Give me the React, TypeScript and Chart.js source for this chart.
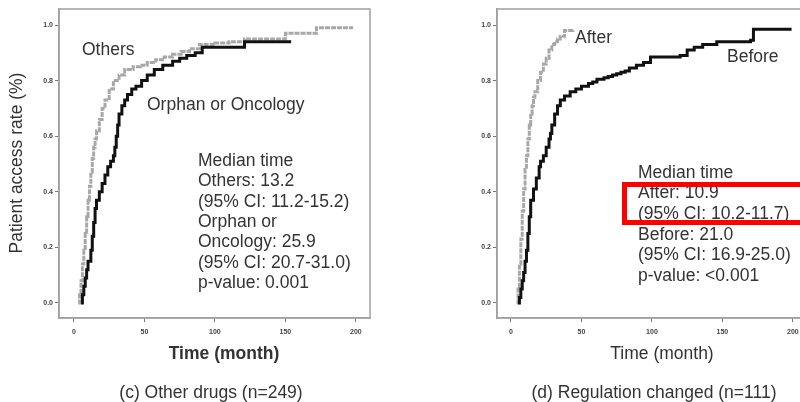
import React, { useEffect, useRef } from "react";
import { Chart, registerables } from "chart.js";

Chart.register(...registerables);

// ---------- data ----------
const xTickValues = [0, 50, 100, 150, 200];
const yTickValues = [0, 0.2, 0.4, 0.6, 0.8, 1.0];

// (c) Other drugs
const othersTime = [3, 4, 5, 6, 7, 8, 9, 10, 11, 12, 13, 14, 15, 16, 18, 20, 22, 25, 28, 32, 36, 42, 47, 52, 58, 64, 70, 76, 82, 89, 100, 110, 121, 150, 172, 198];
const othersRate = [0, 0.03, 0.08, 0.14, 0.19, 0.25, 0.31, 0.37, 0.42, 0.47, 0.52, 0.56, 0.59, 0.62, 0.66, 0.7, 0.73, 0.77, 0.8, 0.82, 0.84, 0.85, 0.855, 0.865, 0.875, 0.885, 0.895, 0.905, 0.915, 0.93, 0.935, 0.94, 0.95, 0.97, 0.99, 0.99];

const orphanTime = [5, 6, 7, 8, 9, 10, 12, 13, 14, 15, 16, 18, 20, 22, 24, 26, 28, 29, 30, 31, 32, 34, 36, 38, 41, 44, 48, 52, 57, 63, 70, 75, 80, 86, 91, 121, 153];
const orphanRate = [0, 0.03, 0.06, 0.09, 0.12, 0.15, 0.19, 0.24, 0.29, 0.34, 0.37, 0.4, 0.43, 0.46, 0.49, 0.51, 0.53, 0.56, 0.6, 0.64, 0.68, 0.71, 0.73, 0.75, 0.77, 0.78, 0.8, 0.82, 0.84, 0.855, 0.87, 0.88, 0.89, 0.9, 0.92, 0.94, 0.945];

// (d) Regulation changed
const afterTime = [4, 5, 6, 7, 8, 9, 10, 11, 12, 13, 14, 15, 16, 17, 19, 21, 23, 25, 27, 29, 31, 33, 35, 38, 44];
const afterRate = [0, 0.05, 0.14, 0.23, 0.33, 0.41, 0.48, 0.53, 0.59, 0.64, 0.68, 0.71, 0.74, 0.76, 0.8, 0.83, 0.86, 0.88, 0.91, 0.93, 0.94, 0.95, 0.96, 0.98, 0.985];

const beforeTime = [5, 6, 7, 8, 9, 10, 11, 12, 13, 14, 16, 18, 20, 21, 23, 25, 27, 28, 29, 31, 33, 35, 38, 42, 46, 50, 55, 58, 61, 66, 69, 72, 75, 78, 81, 84, 89, 94, 99, 120, 125, 130, 136, 146, 170, 172, 198];
const beforeRate = [0, 0.02, 0.05, 0.08, 0.11, 0.15, 0.19, 0.25, 0.31, 0.37, 0.41, 0.45, 0.49, 0.51, 0.53, 0.56, 0.59, 0.61, 0.64, 0.68, 0.71, 0.73, 0.745, 0.76, 0.77, 0.78, 0.79, 0.795, 0.805, 0.81, 0.815, 0.82, 0.825, 0.83, 0.835, 0.845, 0.855, 0.865, 0.885, 0.89, 0.91, 0.92, 0.93, 0.94, 0.945, 0.985, 0.99];

const leftStats = ["Median time", "Others: 13.2", "(95% CI: 11.2-15.2)", "Orphan or", "Oncology: 25.9", "(95% CI: 20.7-31.0)", "p-value: 0.001"];
const rightStats = ["Median time", "After: 10.9", "(95% CI: 10.2-11.7)", "Before: 21.0", "(95% CI: 16.9-25.0)", "p-value: <0.001"];

const FONT = "'Liberation Sans', Arial, sans-serif";

type TextItem = { text: string; x: number; y: number; bold?: boolean; align?: CanvasTextAlign; rotate?: boolean; color?: string };

type PanelSpec = {
  left: number;
  width: number;
  yAxisWidth: number;
  padRight: number;
  xMin: number;
  xMax: number;
  series: { time: number[]; rate: number[]; color: string; width: number; dash: number[] }[];
  texts: TextItem[];
  redBox?: { x: number; y: number; w: number; h: number };
};

function makeDecor(spec: PanelSpec) {
  return {
    id: "panelDecor",
    afterDraw(chart: any) {
      const { ctx, chartArea: a } = chart;
      ctx.save();
      ctx.strokeStyle = "#a0a0a0";
      ctx.lineWidth = 1.5;
      ctx.strokeRect(a.left, a.top, a.right - a.left, a.bottom - a.top);
      for (const t of spec.texts) {
        ctx.save();
        ctx.fillStyle = t.color || "#333";
        ctx.font = `${t.bold ? "bold " : ""}17.5px ${FONT}`;
        ctx.textBaseline = "middle";
        ctx.textAlign = t.align || "left";
        if (t.rotate) {
          ctx.translate(t.x, t.y);
          ctx.rotate(-Math.PI / 2);
          ctx.fillText(t.text, 0, 0);
        } else {
          ctx.fillText(t.text, t.x, t.y);
        }
        ctx.restore();
      }
      if (spec.redBox) {
        const b = spec.redBox;
        ctx.strokeStyle = "#ff0000";
        ctx.lineWidth = 5;
        ctx.strokeRect(b.x, b.y, b.w, b.h);
      }
      ctx.restore();
    },
  };
}

function Panel({ spec }: { spec: PanelSpec }) {
  const ref = useRef<HTMLCanvasElement | null>(null);
  useEffect(() => {
    if (!ref.current) return;
    const chart = new Chart(ref.current, {
      type: "line",
      data: {
        datasets: spec.series.map((s) => ({
          data: s.time.map((t, i) => ({ x: t, y: s.rate[i] })),
          stepped: true,
          borderColor: s.color,
          borderWidth: s.width,
          borderDash: s.dash,
          pointRadius: 0,
          fill: false,
        })),
      },
      options: {
        animation: false,
        responsive: false,
        maintainAspectRatio: false,
        layout: { padding: { left: 0, right: spec.padRight, top: 9, bottom: 0 } },
        plugins: { legend: { display: false }, tooltip: { enabled: false } },
        scales: {
          x: {
            type: "linear",
            min: spec.xMin,
            max: spec.xMax,
            afterBuildTicks: (s: any) => {
              s.ticks = xTickValues.map((v) => ({ value: v }));
            },
            afterFit: (s: any) => {
              s.height = 84;
            },
            ticks: {
              font: { size: 7, family: FONT, weight: "bold" },
              color: "#444",
              padding: 6,
              maxRotation: 0,
              callback: (v: any) => String(v),
            },
            grid: { display: true, drawOnChartArea: false, drawTicks: true, tickLength: 4, color: "#777" },
            border: { display: true, color: "#a0a0a0", width: 1.5 },
          },
          y: {
            type: "linear",
            min: -0.054,
            max: 1.0576,
            afterBuildTicks: (s: any) => {
              s.ticks = yTickValues.map((v) => ({ value: v }));
            },
            afterFit: (s: any) => {
              s.width = spec.yAxisWidth;
            },
            ticks: {
              font: { size: 7, family: FONT, weight: "bold" },
              color: "#444",
              padding: 2,
              callback: (v: any) => Number(v).toFixed(1),
            },
            grid: { display: true, drawOnChartArea: false, drawTicks: true, tickLength: 4, color: "#777" },
            border: { display: true, color: "#a0a0a0", width: 1.5 },
          },
        },
      },
      plugins: [makeDecor(spec)],
    } as any);
    return () => chart.destroy();
  }, [spec]);
  return (
    <canvas
      ref={ref}
      width={spec.width}
      height={402}
      style={{ position: "absolute", left: spec.left, top: 0, width: spec.width, height: 402, display: "block" }}
    />
  );
}

const leftSpec: PanelSpec = {
  left: 0,
  width: 400,
  yAxisWidth: 59,
  padRight: 30,
  xMin: -10.6,
  xMax: 210,
  series: [
    { time: orphanTime, rate: orphanRate, color: "#111", width: 3, dash: [] },
    { time: othersTime, rate: othersRate, color: "#a8a8a8", width: 3, dash: [5, 1] },
  ],
  texts: [
    { text: "Others", x: 82, y: 50 },
    { text: "Orphan or Oncology", x: 147, y: 105 },
    ...leftStats.map((s, i) => ({ text: s, x: 198, y: 161 + i * 20.4 })),
    { text: "Time (month)", x: 224, y: 354, bold: true, align: "center" as CanvasTextAlign },
    { text: "(c) Other drugs (n=249)", x: 211, y: 393, align: "center" as CanvasTextAlign },
    { text: "Patient access rate (%)", x: 17, y: 163, rotate: true, align: "center" as CanvasTextAlign },
  ],
};

const rightSpec: PanelSpec = {
  left: 400,
  width: 420,
  yAxisWidth: 97,
  padRight: 13,
  xMin: -9.9,
  xMax: 210,
  series: [
    { time: beforeTime, rate: beforeRate, color: "#111", width: 3, dash: [] },
    { time: afterTime, rate: afterRate, color: "#a8a8a8", width: 3, dash: [5, 1] },
  ],
  texts: [
    { text: "After", x: 175, y: 38 },
    { text: "Before", x: 327, y: 57 },
    ...rightStats.map((s, i) => ({ text: s, x: 238, y: 173 + i * 20.6 })),
    { text: "Time (month)", x: 262, y: 354, align: "center" as CanvasTextAlign },
    { text: "(d) Regulation changed (n=111)", x: 254, y: 393, align: "center" as CanvasTextAlign },
  ],
  redBox: { x: 224.5, y: 184.5, w: 210, h: 38 },
};

export default function App() {
  return (
    <div style={{ position: "absolute", left: 0, top: 0, width: 800, height: 402, overflow: "hidden", background: "#fff" }}>
      <Panel spec={leftSpec} />
      <Panel spec={rightSpec} />
    </div>
  );
}
